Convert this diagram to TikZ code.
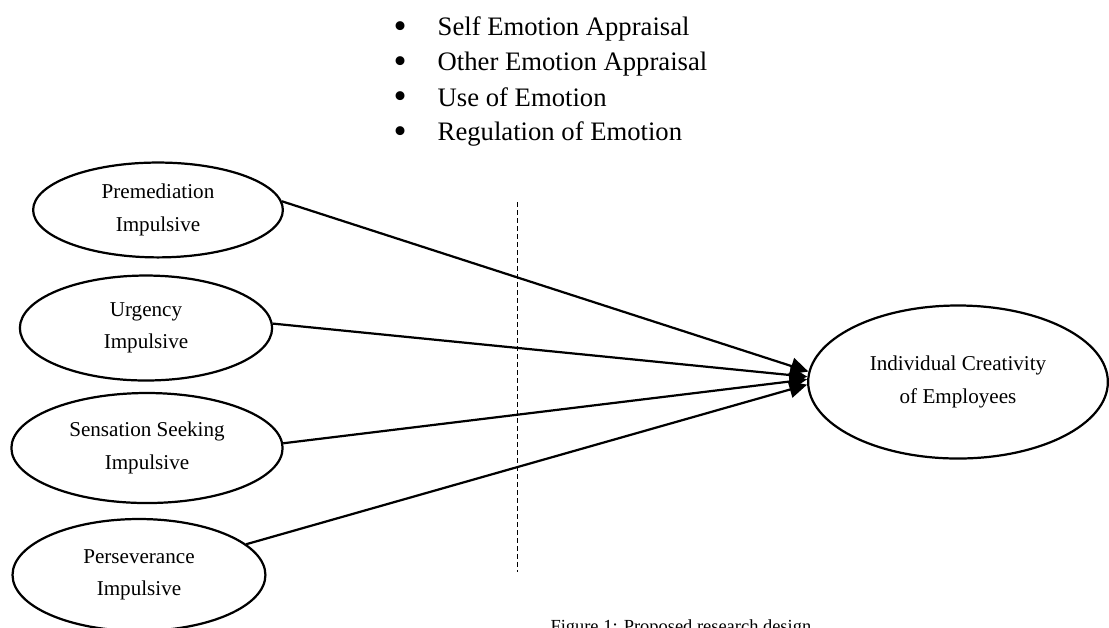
\documentclass[tikz,border=0pt]{standalone}
\usepackage{fontspec}
\setmainfont{Liberation Serif}
\usepackage{tikz}
\usetikzlibrary{shapes, arrows.meta, positioning}

\begin{document}
\begin{tikzpicture}
  [
    Oval/.style={ellipse, draw=black, line width=1pt, inner sep=0pt, align=center, font=\fontsize{9.5}{14.5}\selectfont},
    Item/.style={anchor=base west, inner sep=0pt, font=\fontsize{12}{14}\selectfont},
    Link/.style={-{Triangle[length=8pt, width=7.5pt]}, draw, line width=1pt}
  ]
  \useasboundingbox (0, 0) rectangle (17.54, -9.917);

  % Emotional intelligence list (x, y)
  \node[Item] (i1) at(6.22, -0.569) {\makebox[19.8pt][l]{\raisebox{-1.3pt}{\scalebox{1.4}{\textbullet}}}Self Emotion Appraisal};
  \node[Item] (i2) at(6.22, -1.123) {\makebox[19.8pt][l]{\raisebox{-1.3pt}{\scalebox{1.4}{\textbullet}}}Other Emotion Appraisal};
  \node[Item] (i3) at(6.22, -1.677) {\makebox[19.8pt][l]{\raisebox{-1.3pt}{\scalebox{1.4}{\textbullet}}}Use of Emotion};
  \node[Item] (i4) at(6.22, -2.230) {\makebox[19.8pt][l]{\raisebox{-1.3pt}{\scalebox{1.4}{\textbullet}}}Regulation of Emotion};

  % Impulsive nodes (x, y)
  \node[Oval, minimum width=3.95cm, minimum height=1.50cm] (pre) at(2.499, -3.321) {Premediation\\Impulsive};
  \node[Oval, minimum width=3.99cm, minimum height=1.66cm] (urg) at(2.309, -5.188) {Urgency\\Impulsive};
  \node[Oval, minimum width=4.29cm, minimum height=1.74cm] (sen) at(2.325, -7.086) {Sensation Seeking\\Impulsive};
  \node[Oval, minimum width=4.00cm, minimum height=1.77cm] (per) at(2.198, -9.094) {Perseverance\\Impulsive};

  % Outcome node
  \node[Oval, minimum width=4.74cm, minimum height=2.42cm] (ice) at(15.152, -6.042) {Individual Creativity\\of Employees};

  % Dashed divider
  \coordinate (top) at(8.177, -3.195);
  \coordinate (bot) at(8.177, -9.047);
  \draw[thin, dashed, dash pattern=on 2.2pt off 1.4pt] (top) -- (bot);

  % Lines
  % premediation -> creativity
  \path [Link] (pre.4) -- (ice.176);
  % urgency -> creativity
  \path [Link] (urg.2) -- (ice.178.5);
  % sensation seeking -> creativity
  \path [Link] (sen.2) -- (ice.179);
  % perseverance -> creativity
  \path [Link] (per.16) -- (ice.181);

  % Caption (cut by the page edge)
  \node[Item, font=\fontsize{8.3}{10}\selectfont] (cap) at(8.70, -10.0) {Figure 1: Proposed research design};

\end{tikzpicture}
\end{document}
